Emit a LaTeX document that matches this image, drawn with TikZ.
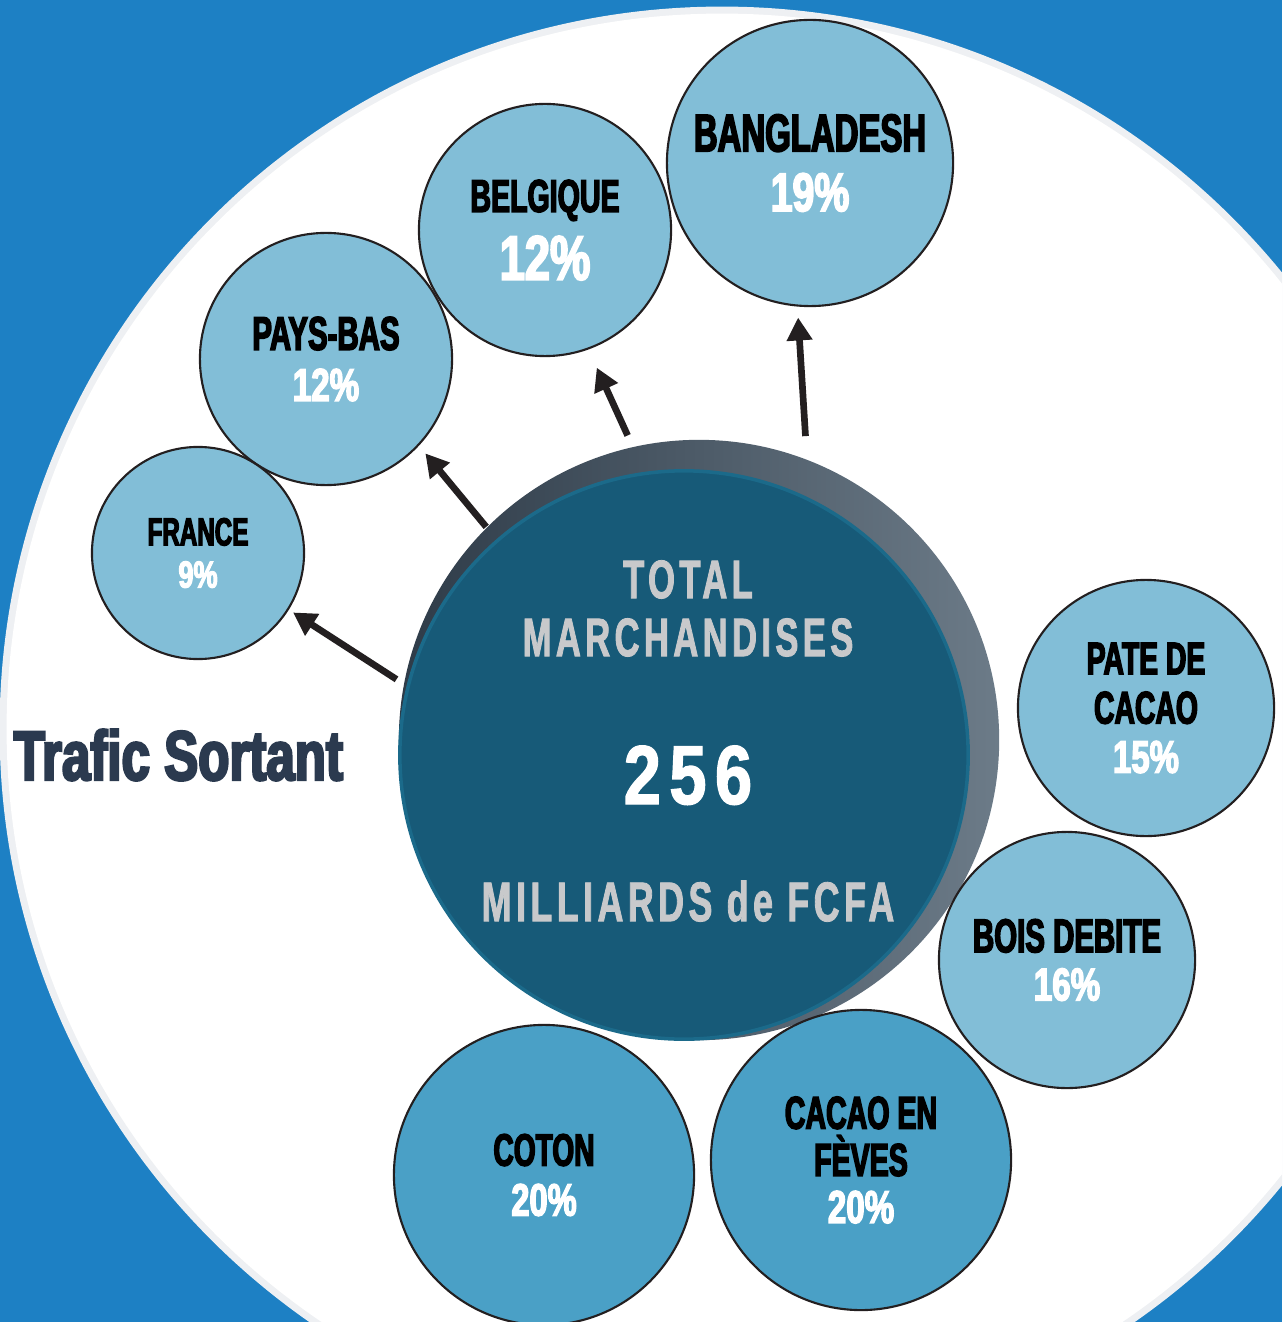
\documentclass[tikz,border=0pt]{standalone}
\usepackage{fontspec}
\usetikzlibrary{arrows.meta}

\newfontfamily\bubblefont[UprightFont=* Bold, FakeStretch=0.62, FakeBold=3]{Liberation Sans}
\newfontfamily\pctfont[UprightFont=* Bold, FakeStretch=0.72, FakeBold=3]{Liberation Sans}
\newfontfamily\titlefont[UprightFont=* Bold, FakeStretch=0.73, FakeBold=3.5]{Liberation Sans}
\newfontfamily\totalfont[UprightFont=* Bold, FakeStretch=0.64, FakeBold=1.5, LetterSpace=8]{Liberation Sans}
\newfontfamily\numberfont[UprightFont=* Bold, FakeStretch=0.8, FakeBold=1.5, LetterSpace=10]{Liberation Sans}

\definecolor{seablue}{HTML}{1D80C4}
\definecolor{ringgrey}{HTML}{EEF0F3}
\definecolor{bubblelight}{HTML}{82BED7}
\definecolor{bubbledark}{HTML}{4AA0C6}
\definecolor{totalteal}{HTML}{175A78}
\definecolor{totalrim}{HTML}{1B6A8A}
\definecolor{totalgrey}{HTML}{C8C9CB}
\definecolor{shadowdark}{HTML}{2E3B48}
\definecolor{shadowlight}{HTML}{6C7B88}
\definecolor{titlenavy}{HTML}{2B3A4F}
\definecolor{arrowblack}{HTML}{231F20}

\tikzset{
    bubble/.style={circle, draw=arrowblack, line width=0.6pt, fill=bubblelight,
        inner sep=0pt, align=center},
    outflow/.style={draw=arrowblack, line width=1.9pt,
        -{Triangle[length=6.5pt, width=7pt]}}
}

\begin{document}
\begin{tikzpicture}[x=0.01cm, y=-0.01cm]

    \useasboundingbox (0,0) rectangle (1282,1322);
    \clip (0,0) rectangle (1282,1322);

    %% Background

    \fill [seablue] (0,0) rectangle (1282,1322);
    \fill [ringgrey] (722,729) circle (7.22cm);
    \fill [white] (722,729) circle (7.15cm);

    % Title
    \node [anchor=base west, inner sep=0pt, text=titlenavy, font=\titlefont\fontsize{19.9}{22}\selectfont]
        (title) at (13,780) {Trafic Sortant};

    %% Total

    \shade [left color=shadowdark, right color=shadowlight] (699,740) circle (3cm);
    \node [circle, fill=totalteal, draw=totalrim, line width=1pt, minimum size=5.68cm, inner sep=0pt]
        (total) at (684,755) {};
    \node [align=center, inner sep=0pt, text=totalgrey, font=\totalfont\fontsize{15.4}{16.5}\selectfont]
        (totaltext) at (688,741)
        {TOTAL\\
         MARCHANDISES\\[24.3pt]
         \numberfont\color{white}\fontsize{23.8}{16.5}\selectfont 256\\[16.8pt]
         \fontsize{15.9}{16.5}\selectfont MILLIARDS de FCFA};

    %% Countries

    \node [bubble, minimum size=2.86cm, font=\bubblefont\fontsize{15.1}{17}\selectfont]
        (bangladesh) at (810,163)
        {BANGLADESH\\ \pctfont\fontsize{15.5}{17}\selectfont\color{white}19\%};
    \node [bubble, minimum size=2.52cm, font=\bubblefont\fontsize{13.1}{19.3}\selectfont]
        (belgique) at (545,230)
        {BELGIQUE\\ \pctfont\fontsize{17.9}{19.3}\selectfont\color{white}12\%};
    \node [bubble, minimum size=2.52cm, font=\bubblefont\fontsize{13.5}{14.5}\selectfont]
        (paysbas) at (326,359)
        {PAYS-BAS\\ \pctfont\fontsize{13.1}{14.5}\selectfont\color{white}12\%};
    \node [bubble, minimum size=2.12cm, font=\bubblefont\fontsize{11.1}{12}\selectfont]
        (france) at (198,553)
        {FRANCE\\ \pctfont\fontsize{10.7}{12}\selectfont\color{white}9\%};

    %% Goods

    \node [bubble, minimum size=2.56cm, font=\bubblefont\fontsize{13}{14}\selectfont]
        (pate) at (1146,708)
        {PATE DE\\ CACAO\\ \pctfont\color{white}15\%};
    \node [bubble, minimum size=2.56cm, font=\bubblefont\fontsize{13.5}{13.7}\selectfont]
        (bois) at (1067,960)
        {BOIS DEBITE\\ \pctfont\fontsize{13.1}{13.7}\selectfont\color{white}16\%};
    \node [bubble, fill=bubbledark, minimum size=3cm, font=\bubblefont\fontsize{13.1}{13.4}\selectfont]
        (feves) at (861,1160)
        {CACAO EN\\ FÈVES\\ \pctfont\color{white}20\%};
    \node [bubble, fill=bubbledark, minimum size=3cm, font=\bubblefont\fontsize{12.9}{14.2}\selectfont]
        (coton) at (544,1175)
        {COTON\\ \pctfont\color{white}20\%};

    %% Flows

    \draw [outflow, shorten <=0.12cm, shorten >=0.05cm] (total.166) -- (france.-32);
    \draw [outflow, shorten <=0.16cm, shorten >=0.10cm] (total.131) -- (paysbas.-43);
    \draw [outflow, shorten <=0.40cm, shorten >=0.20cm] (total.98) -- (belgique.-70);
    \draw [outflow, shorten <=0.62cm, shorten >=0.11cm] (total.64) -- (bangladesh.-95);

\end{tikzpicture}
\end{document}
